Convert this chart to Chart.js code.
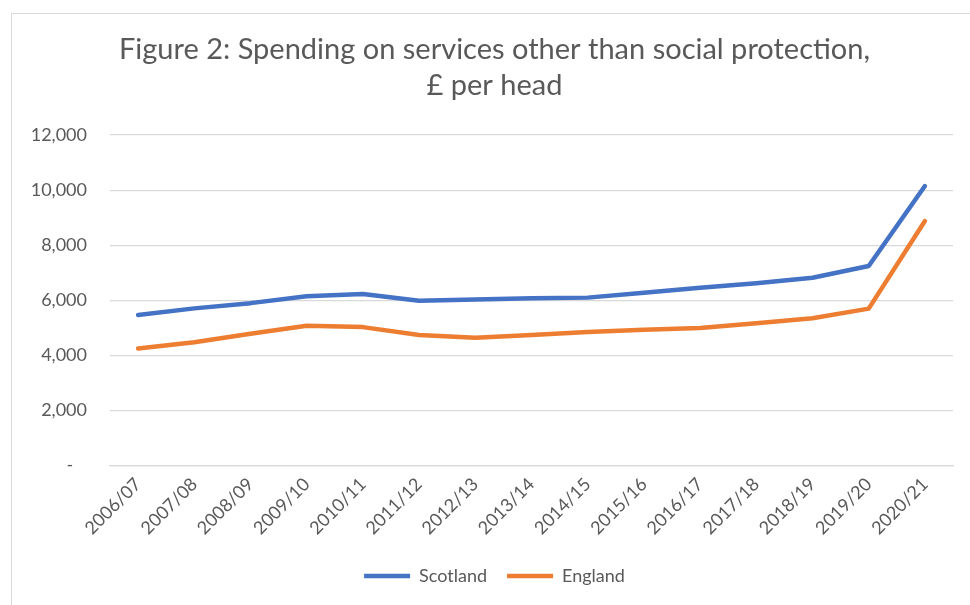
<!DOCTYPE html>
<html>
<head>
<meta charset="utf-8">
<script src="https://cdn.jsdelivr.net/npm/chart.js@4/dist/chart.umd.min.js"></script>
<style>
    body { margin: 0; background: #ffffff; overflow: hidden; }
    #wrap { position: relative; width: 970px; height: 605px; }
    #frame { position: absolute; left: 11px; top: 13px; width: 980px; height: 620px; border: 1.5px solid #d9d9d9; box-sizing: border-box; pointer-events: none; }
</style>
</head>
<body>
<div id="wrap">
    <canvas id="SpendingChart" width="970" height="605"></canvas>
    <div id="frame"></div>
</div>
<script>
var years = ["2006/07", "2007/08", "2008/09", "2009/10", "2010/11", "2011/12", "2012/13", "2013/14",
    "2014/15", "2015/16", "2016/17", "2017/18", "2018/19", "2019/20", "2020/21"];
var scotland = [5470, 5710, 5900, 6150, 6230, 5990, 6030, 6080, 6100, 6280, 6460, 6620, 6820, 7250, 10150];
var england = [4250, 4480, 4790, 5080, 5030, 4740, 4640, 4740, 4850, 4930, 5000, 5170, 5350, 5700, 8880];
var yTicks = [0, 2000, 4000, 6000, 8000, 10000, 12000];

var textColor = "#595959";
var gridColor = "#d9d9d9";

function formatTick(value) {
    if (value == 0) {
        return "-   ";
    }
    return value.toLocaleString("en-GB");
}

var spendingChart = new Chart("SpendingChart", {
    type: "line",
    data: {
        labels: years,
        datasets: [
            {
                label: "Scotland",
                data: scotland,
                borderColor: "#4472C4",
                backgroundColor: "#4472C4",
                borderWidth: 4.5,
                borderCapStyle: "round",
                borderJoinStyle: "round",
                pointRadius: 0,
                tension: 0
            },
            {
                label: "England",
                data: england,
                borderColor: "#ED7D31",
                backgroundColor: "#ED7D31",
                borderWidth: 4.5,
                borderCapStyle: "round",
                borderJoinStyle: "round",
                pointRadius: 0,
                tension: 0
            }]
    },
    options: {
        responsive: false,
        animation: false,
        layout: {
            // title and legend in the reference sit a bit right of the canvas centre
            padding: { left: 12, right: -7, top: 13, bottom: 10 }
        },
        plugins: {
            tooltip: { enabled: false },
            title: {
                display: true,
                text: ["Figure 2: Spending on services other than social protection,", "\u00a3 per head"],
                color: textColor,
                padding: { top: 18, bottom: 31 },
                font: { family: "Lato", size: 29, weight: "normal", lineHeight: 1.26 }
            },
            legend: {
                position: "bottom",
                labels: {
                    usePointStyle: true,
                    pointStyle: "line",
                    pointStyleWidth: 46,
                    color: textColor,
                    padding: 20,
                    font: { family: "Lato", size: 18 }
                }
            }
        },
        scales: {
            y: {
                min: 0,
                max: 12000,
                afterBuildTicks: function (scale) {
                    scale.ticks = yTicks.map(function (v) { return { value: v }; });
                },
                afterFit: function (scale) {
                    scale.width = 98;
                },
                grid: { color: gridColor, lineWidth: 1.3, drawTicks: false },
                border: { display: false },
                ticks: {
                    color: textColor,
                    padding: 23,
                    callback: formatTick,
                    font: { family: "Lato", size: 18 }
                }
            },
            yRight: {
                type: "linear",
                position: "right",
                afterFit: function (scale) {
                    scale.width = 24;
                },
                grid: { display: false, drawTicks: false },
                border: { display: false },
                ticks: { display: false }
            },
            x: {
                offset: true,
                grid: { display: false, drawTicks: false },
                border: { color: gridColor, width: 1.3 },
                ticks: {
                    color: textColor,
                    padding: 8,
                    minRotation: 45,
                    maxRotation: 45,
                    autoSkip: false,
                    font: { family: "Lato", size: 18 }
                }
            }
        }
    }
});
</script>
</body>
</html>
